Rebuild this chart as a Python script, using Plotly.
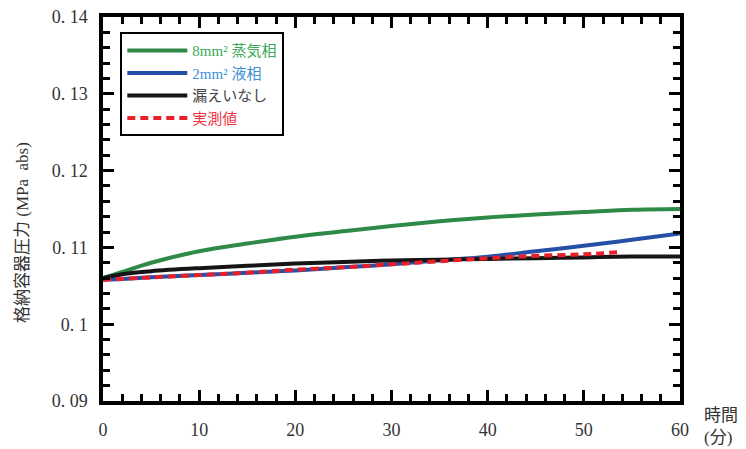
import plotly.graph_objects as go

# Data (time in minutes, pressure in MPa abs)
t_model = [0, 2, 5, 10, 15, 20, 25, 30, 35, 40, 45, 50, 55, 60]
p_vapor8 = [0.1060, 0.1068, 0.1080, 0.1095, 0.1105, 0.1114, 0.1121, 0.1128, 0.1134, 0.1139, 0.1143, 0.1146, 0.1149, 0.1150]
p_liquid2 = [0.1058, 0.1059, 0.1061, 0.1064, 0.1067, 0.1070, 0.1074, 0.1078, 0.1083, 0.1088, 0.1095, 0.1102, 0.1110, 0.1118]
p_noleak = [0.1060, 0.1065, 0.1069, 0.1073, 0.1076, 0.1079, 0.1081, 0.1083, 0.1084, 0.1085, 0.1086, 0.1087, 0.1088, 0.1088]
t_meas = [0, 5, 10, 15, 20, 25, 30, 35, 40, 45, 50, 54]
p_meas = [0.1058, 0.1061, 0.1064, 0.1067, 0.1071, 0.1074, 0.1078, 0.1082, 0.1086, 0.1089, 0.1091, 0.1094]

x_ticks = [0, 10, 20, 30, 40, 50, 60]
y_ticks = [0.09, 0.1, 0.11, 0.12, 0.13, 0.14]
y_ticktext = ["0. 09", "0. 1", "0. 11", "0. 12", "0. 13", "0. 14"]

names = [
    '<span style="color:#3aa856">8mm² 蒸気相</span>',
    '<span style="color:#3b8fd4">2mm² 液相</span>',
    '<span style="color:#444444">漏えいなし</span>',
    '<span style="color:#ee3344">実測値</span>',
]

FONT = "'Liberation Serif', 'DejaVu Serif', 'Noto Sans CJK JP', serif"

fig = go.Figure()
fig.add_trace(go.Scatter(x=t_model, y=p_vapor8, mode="lines", name=names[0],
                         line=dict(color="#2e8a46", width=4, shape="spline")))
fig.add_trace(go.Scatter(x=t_model, y=p_liquid2, mode="lines", name=names[1],
                         line=dict(color="#2650a8", width=4, shape="spline")))
fig.add_trace(go.Scatter(x=t_model, y=p_noleak, mode="lines", name=names[2],
                         line=dict(color="#151515", width=4, shape="spline")))
fig.add_trace(go.Scatter(x=t_meas, y=p_meas, mode="lines", name=names[3],
                         line=dict(color="#e8202a", width=4, dash="8px,5px", shape="spline")))

axis_common = dict(
    showline=True, linecolor="black", linewidth=3.5, mirror="ticks",
    ticks="inside", ticklen=11, tickwidth=3, tickcolor="black",
    showgrid=False, zeroline=False, automargin=False,
    tickfont=dict(family=FONT, size=18, color="#333333"),
)

fig.update_xaxes(range=[0, 60], tickvals=x_ticks, ticklabelstandoff=10,
                 minor=dict(ticks="inside", dtick=2, ticklen=7, tickwidth=3, tickcolor="black", showgrid=False),
                 **axis_common)
fig.update_yaxes(range=[0.09, 0.14], tickvals=y_ticks, ticktext=y_ticktext, ticklabelstandoff=8,
                 minor=dict(ticks="inside", dtick=0.002, ticklen=7, tickwidth=3, tickcolor="black", showgrid=False),
                 **axis_common)

fig.add_annotation(x=0, y=0.5, xref="paper", yref="paper", xanchor="center", yanchor="middle",
                   xshift=-81, yshift=-24, showarrow=False, textangle=-90,
                   text="格納容器圧力 (MPa  abs)", font=dict(family=FONT, size=17, color="#333333"))

fig.add_annotation(x=1.0, y=0, xref="paper", yref="paper", xanchor="left", yanchor="top",
                   xshift=22, yshift=-3, showarrow=False, align="left",
                   text="時間<br>(分)", font=dict(family=FONT, size=17, color="#333333"))

fig.update_layout(
    width=746, height=449,
    margin=dict(l=103, r=66, t=17, b=48),
    paper_bgcolor="white", plot_bgcolor="white",
    showlegend=True,
    legend=dict(x=0.03, y=0.96, xanchor="left", yanchor="top",
                bordercolor="black", borderwidth=2, bgcolor="white",
                font=dict(family=FONT, size=15, color="#333333"),
                itemwidth=60, tracegroupgap=0),
)

# remove the browser's default 8px body margin so the figure sits at the page origin
fig.write_html("out.html", config={"displayModeBar": False},
               post_script="document.body.style.margin='0';")
